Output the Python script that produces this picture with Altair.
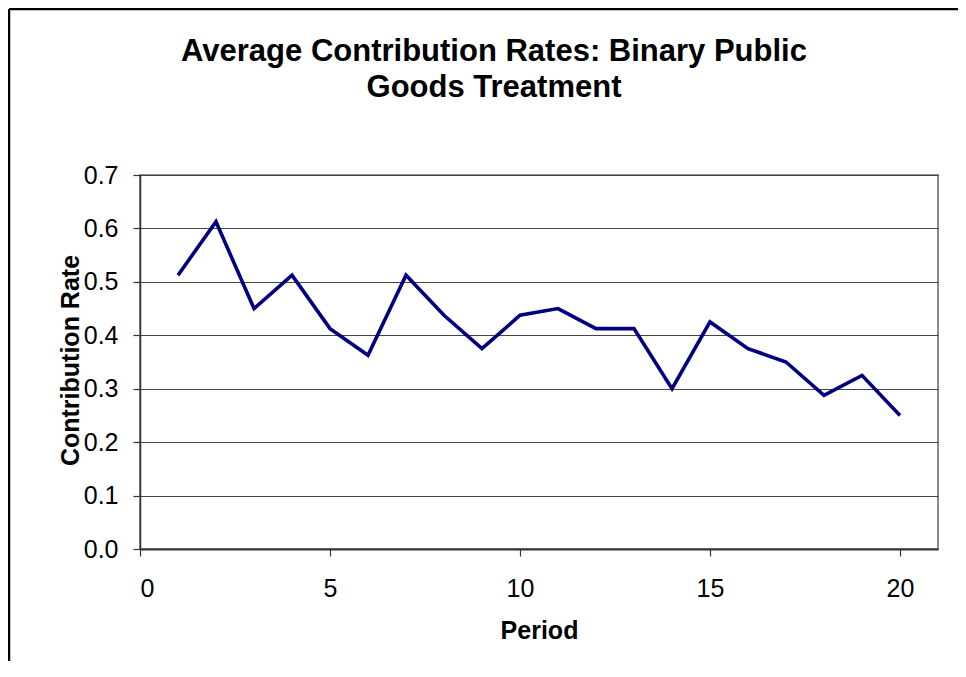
import altair as alt
import pandas as pd

periods = list(range(1, 21))
rates = [0.5125, 0.6125, 0.45, 0.5125, 0.4125, 0.3625, 0.5125, 0.4375, 0.375, 0.4375,
         0.45, 0.4125, 0.4125, 0.30, 0.425, 0.375, 0.35, 0.2875, 0.325, 0.25]
x_ticks = [0, 5, 10, 15, 20]
y_ticks = [0.0, 0.1, 0.2, 0.3, 0.4, 0.5, 0.6, 0.7]
title_lines = ["Average Contribution Rates: Binary Public", "Goods Treatment"]

df = pd.DataFrame({"Period": periods, "Rate": rates})

FONT = "Liberation Sans"

line = alt.Chart(df).mark_line(color="#000080", strokeWidth=3.6).encode(
    x=alt.X("Period:Q",
            scale=alt.Scale(domain=[0, 21], nice=False, zero=True),
            axis=alt.Axis(values=x_ticks, title="Period", grid=False,
                          labelFont=FONT, labelFontSize=25, labelColor="black",
                          labelBaseline="alphabetic", labelPadding=40,
                          tickSize=7, tickColor="#333", tickWidth=1.2,
                          domainColor="#333", domainWidth=2,
                          titleFont=FONT, titleFontSize=25, titleFontWeight="bold",
                          titleColor="black", titleBaseline="alphabetic", titleY=89)),
    y=alt.Y("Rate:Q",
            scale=alt.Scale(domain=[0, 0.7], nice=False),
            axis=alt.Axis(values=y_ticks, format=".1f", title="Contribution Rate",
                          grid=True, gridColor="#444", gridWidth=1,
                          labelFont=FONT, labelFontSize=25, labelColor="black",
                          labelPadding=15, tickSize=7, tickColor="#333", tickWidth=1.2,
                          domainColor="#333", domainWidth=1.5,
                          titleFont=FONT, titleFontSize=25, titleFontWeight="bold",
                          titleColor="black", titleBaseline="alphabetic",
                          titleX=-62, titleY=185)),
)

frame_left = alt.Chart(alt.Data(values=[{}])).mark_rule(color="black", strokeWidth=2.5).encode(
    x=alt.value(-131), y=alt.value(-166), y2=alt.value(500))
frame_top = alt.Chart(alt.Data(values=[{}])).mark_rule(color="black", strokeWidth=2.5).encode(
    x=alt.value(-131), x2=alt.value(830), y=alt.value(-166))

chart = alt.layer(line, frame_left, frame_top).properties(
    width=798, height=374,
    title=alt.TitleParams(text=title_lines, font=FONT, fontSize=31, fontWeight="bold",
                          color="black", anchor="middle", frame="group",
                          baseline="alphabetic", lineHeight=36, offset=0, dy=120, dx=-45),
    autosize=alt.AutoSizeParams(type="none"),
    padding={"left": 132, "top": 167, "right": 20, "bottom": 112},
).configure_view(stroke="#8c8c8c", strokeWidth=2)

chart.save("out.html", embed_options={"renderer": "svg", "actions": False})
